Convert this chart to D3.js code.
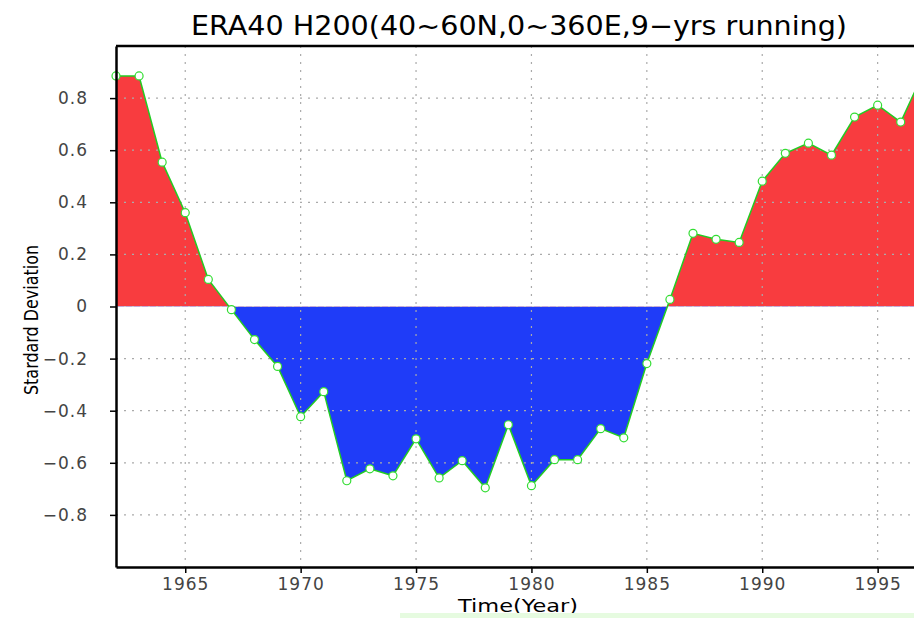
<!DOCTYPE html>
<html>
<head>
<meta charset="utf-8">
<script src="https://cdn.jsdelivr.net/npm/d3@7"></script>
<style>
  body { margin: 0; background: #fff; }
  svg { display: block; }
</style>
</head>
<body>
<div id="main"></div>
<script>
const Width = 914, Height = 618;

// data
const years = d3.range(1962, 1998);
const values = [0.885, 0.885, 0.554, 0.36, 0.104, -0.012, -0.127, -0.23, -0.423, -0.327,
                -0.669, -0.623, -0.65, -0.508, -0.658, -0.592, -0.696, -0.454, -0.688, -0.588,
                -0.588, -0.469, -0.504, -0.219, 0.027, 0.281, 0.258, 0.246, 0.481, 0.588,
                0.627, 0.581, 0.727, 0.773, 0.708, 0.90];
const xTicks = [1965, 1970, 1975, 1980, 1985, 1990, 1995];
const yTicks = [-0.8, -0.6, -0.4, -0.2, 0, 0.2, 0.4, 0.6, 0.8];
const data = years.map((y, i) => ({year: y, v: values[i]}));

const margin = {left: 116, top: 46, bottom: 51};

const svg = d3.select("#main")
    .append("svg")
    .attr("width", Width)
    .attr("height", Height)
;

let Xscale = d3.scaleLinear().domain([1962, 1998]).range([margin.left, margin.left + 36 * 23.08]);
let Yscale = d3.scaleLinear().domain([-1, 1]).range([Height - margin.bottom, margin.top]);
const y0 = Yscale(0);

const defs = svg.append("defs");
defs.append("clipPath").attr("id", "above").append("rect")
    .attr("x", margin.left).attr("y", margin.top)
    .attr("width", Width).attr("height", y0 - margin.top);
defs.append("clipPath").attr("id", "below").append("rect")
    .attr("x", margin.left).attr("y", y0)
    .attr("width", Width).attr("height", Yscale(-1) - y0);

const area = d3.area().x(d => Xscale(d.year)).y0(y0).y1(d => Yscale(d.v));

svg.append("path").datum(data).attr("d", area)
    .attr("fill", "#f83c3f").attr("clip-path", "url(#above)");
svg.append("path").datum(data).attr("d", area)
    .attr("fill", "#1f3cf8").attr("clip-path", "url(#below)");

// dotted grid on top of the fill
const grid = svg.append("g").attr("stroke", "#aaa").attr("stroke-dasharray", "2,6").attr("stroke-width", 1.2);
grid.selectAll(".vg").data(xTicks).enter().append("line")
    .attr("x1", d => Xscale(d)).attr("x2", d => Xscale(d))
    .attr("y1", margin.top).attr("y2", Yscale(-1));
grid.selectAll(".hg").data(yTicks).enter().append("line")
    .attr("x1", margin.left).attr("x2", Width)
    .attr("y1", d => Yscale(d)).attr("y2", d => Yscale(d))
    .attr("stroke", d => d === 0 ? "#ccc" : "#aaa");

// line + markers
svg.append("path").datum(data)
    .attr("d", d3.line().x(d => Xscale(d.year)).y(d => Yscale(d.v)))
    .attr("fill", "none").attr("stroke", "#22cc22").attr("stroke-width", 1.5);
svg.selectAll("circle").data(data).enter().append("circle")
    .attr("cx", d => Xscale(d.year)).attr("cy", d => Yscale(d.v))
    .attr("r", 4).attr("fill", "#fff").attr("stroke", "#33dd33").attr("stroke-width", 1.2);

// axes
const xAxis = svg.append("g")
    .attr("transform", `translate(0, ${Yscale(-1)})`)
    .call(d3.axisBottom(Xscale).tickValues(xTicks).tickFormat(d3.format("d")).tickSize(6).tickSizeOuter(0));
const yAxis = svg.append("g")
    .attr("transform", `translate(${margin.left},0)`)
    .call(d3.axisLeft(Yscale).tickValues(yTicks).tickFormat(d => d === 0 ? "0" : d3.format(".1f")(d).replace("-", "\u2212")).tickSize(6).tickSizeOuter(0));

[xAxis, yAxis].forEach(a => {
    a.select(".domain").attr("stroke", "#000").attr("stroke-width", 2.5);
    a.selectAll(".tick line").attr("stroke", "#000").attr("stroke-width", 1.5);
    a.selectAll(".tick text").attr("fill", "#444")
        .style("font-family", "DejaVu Sans, sans-serif").style("font-size", "17px")
        .style("letter-spacing", "1px");
});
xAxis.selectAll(".tick text").attr("dy", "0.8em");
yAxis.selectAll(".tick text").attr("x", -28);

// top border
svg.append("line")
    .attr("x1", margin.left).attr("x2", Width)
    .attr("y1", margin.top).attr("y2", margin.top)
    .attr("stroke", "#000").attr("stroke-width", 2.5);

// titles
svg.append("text")
    .attr("x", 519).attr("y", 35)
    .attr("text-anchor", "middle")
    .attr("textLength", 656).attr("lengthAdjust", "spacingAndGlyphs")
    .style("font-family", "DejaVu Sans, sans-serif").style("font-size", "27px")
    .text("ERA40 H200(40~60N,0~360E,9\u2212yrs running)");

svg.append("text")
    .attr("x", 518).attr("y", 612)
    .attr("text-anchor", "middle")
    .attr("textLength", 120).attr("lengthAdjust", "spacingAndGlyphs")
    .style("font-family", "DejaVu Sans, sans-serif").style("font-size", "18px")
    .text("Time(Year)");

svg.append("text")
    .attr("transform", "translate(38, 320) rotate(-90)")
    .attr("text-anchor", "middle")
    .attr("textLength", 150).attr("lengthAdjust", "spacingAndGlyphs")
    .style("font-family", "DejaVu Sans, sans-serif").style("font-size", "19px")
    .text("Stardard Deviation");

// faint green strip at the bottom edge
svg.append("rect")
    .attr("x", 400).attr("y", 613).attr("width", Width - 400).attr("height", 5)
    .attr("fill", "#e6fbe0");
</script>
</body>
</html>
